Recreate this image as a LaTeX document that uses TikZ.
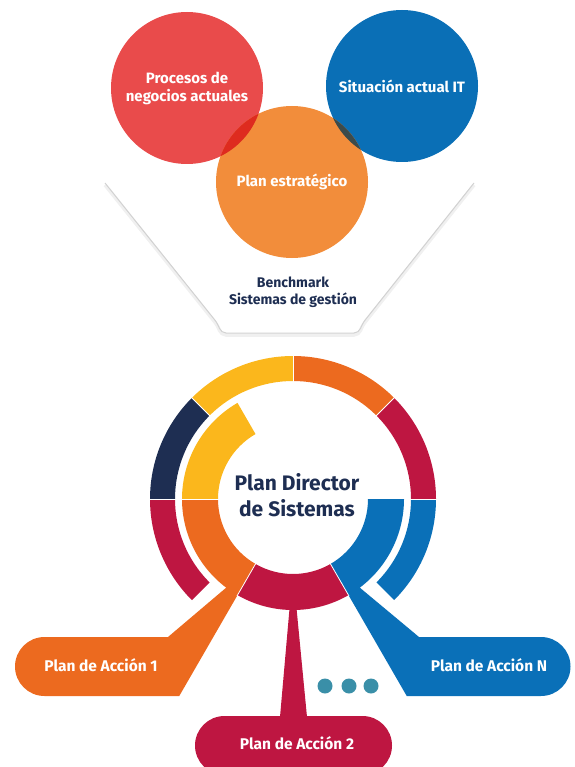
\documentclass[tikz,border=0pt]{standalone}
\usepackage{fontspec}
\setmainfont{Fira Sans}
\usetikzlibrary{positioning}

\definecolor{cRed}{HTML}{E94B4B}
\definecolor{cBlue}{HTML}{0A6FB6}
\definecolor{cOrange}{HTML}{F28D3B}
\definecolor{cRedOr}{HTML}{DE2B1F}
\definecolor{cBlueOr}{HTML}{3C4B4B}
\definecolor{cNavy}{HTML}{1E2E52}
\definecolor{cYellow}{HTML}{FBB71C}
\definecolor{cDeepOr}{HTML}{EC6A1F}
\definecolor{cCrimson}{HTML}{BE1641}
\definecolor{cRing}{HTML}{0A70B8}
\definecolor{cTeal}{HTML}{3A8FA8}

\tikzset{
  bubble/.style={circle, minimum size=152pt, inner sep=0pt, text=white, align=center,
    font=\bfseries\fontsize{15}{18}\selectfont},
  calltext/.style={text=white, font=\bfseries\fontsize{15.5}{18}\selectfont},
  navytext/.style={text=cNavy, align=center, font=\bfseries\fontsize{14}{17}\selectfont},
  sep/.style={white, line width=0.8pt},
}
% ring piece: colour, from, to, inner radius, outer radius
\newcommand{\ringpart}[5]{%
  \fill[#1] (#2:#5) arc[start angle=#2, end angle=#3, radius=#5] -- (#3:#4)
    arc[start angle=#3, end angle=#2, radius=#4] -- cycle;}

\begin{document}
\begin{tikzpicture}[x=1pt, y=-1pt]
	\useasboundingbox (0,0) rectangle (574,767);

	% funnel
	\draw[gray!12, line width=3.5pt, rounded corners=5pt] (105,185) -- (218,326) -- (221,335) -- (359,335) -- (362,326) -- (474,185);
	\draw[gray!35, line width=1pt, rounded corners=5pt] (105,183) -- (218,324) -- (221,333) -- (359,333) -- (362,324) -- (474,183);

	% three inputs
	\node[bubble, fill=cRed] (proc) at (187,88) {Procesos de\\negocios actuales};
	\node[bubble, fill=cBlue] (sit) at (402,86) {Situación actual IT};
	\node[bubble, fill=cOrange] (est) at (292,182) {\raisebox{-2pt}{Plan estratégico}};
	\begin{scope}
		\clip (proc.center) circle[radius=76];
		\fill[cRedOr] (est.center) circle[radius=76];
	\end{scope}
	\begin{scope}
		\clip (sit.center) circle[radius=76];
		\fill[cBlueOr] (est.center) circle[radius=76];
	\end{scope}
	\node[navytext] (bench) at (293,292) {Benchmark\\Sistemas de gestión};

	% ring
	\begin{scope}[shift={(293,499)}, yscale=-1]
		\ringpart{cNavy}{135}{180}{118}{143}
		\ringpart{cYellow}{90}{135}{118}{143}
		\ringpart{cDeepOr}{45}{90}{118}{143}
		\ringpart{cCrimson}{0}{45}{118}{143}
		\ringpart{cCrimson}{180}{225}{118}{143}
		\ringpart{cRing}{-45}{0}{118}{143}
		\ringpart{cYellow}{120}{180}{75}{111}
		% action 1
		\fill[cDeepOr] (180:75) arc[start angle=180, end angle=240, radius=75] -- (240:227.5)
			-- (-248.5,-197) arc[start angle=270, end angle=90, radius=29.5] -- (-125,-138)
			-- (233:111) arc[start angle=233, end angle=180, radius=111] -- cycle;
		% action 2
		\fill[cCrimson] (240:75) arc[start angle=240, end angle=300, radius=75] -- (300:111)
			arc[start angle=300, end angle=240, radius=111] -- cycle;
		\fill[cCrimson] (-3,-104) -- (3,-104) -- (14,-218) -- (-13,-218) -- cycle;
		\fill[cCrimson, rounded corners=29.5pt] (-98,-217) rectangle (99,-276);
		% action N
		\fill[cRing] (0:75) arc[start angle=0, end angle=-60, radius=75] -- (-60:227.5)
			-- (248,-197) arc[start angle=-90, end angle=90, radius=29.5] -- (126,-138)
			-- (-53:111) arc[start angle=-53, end angle=0, radius=111] -- cycle;
		% white cuts
		\foreach \a in {0,45,...,180}
			\draw[sep] (\a:117) -- (\a:144);
		\draw[sep] (180:74) -- (180:112);
		\draw[sep] (240:74) -- (240:112);
		\draw[sep] (300:74) -- (300:112);
	\end{scope}

	\node[text=cNavy, align=center, font=\bfseries\fontsize{21}{26}\selectfont] (pds) at (297,495) {Plan Director\\de Sistemas};

	\node[calltext] (pa1) at (101,665) {Plan de Acción 1};
	\node[calltext] (pa2) at (297,743) {Plan de Acción 2};
	\node[calltext] (paN) at (489,665) {Plan de Acción N};

	\foreach \x in {325,349,371}
		\fill[cTeal] (\x,686) circle[radius=7.5];
\end{tikzpicture}
\end{document}
